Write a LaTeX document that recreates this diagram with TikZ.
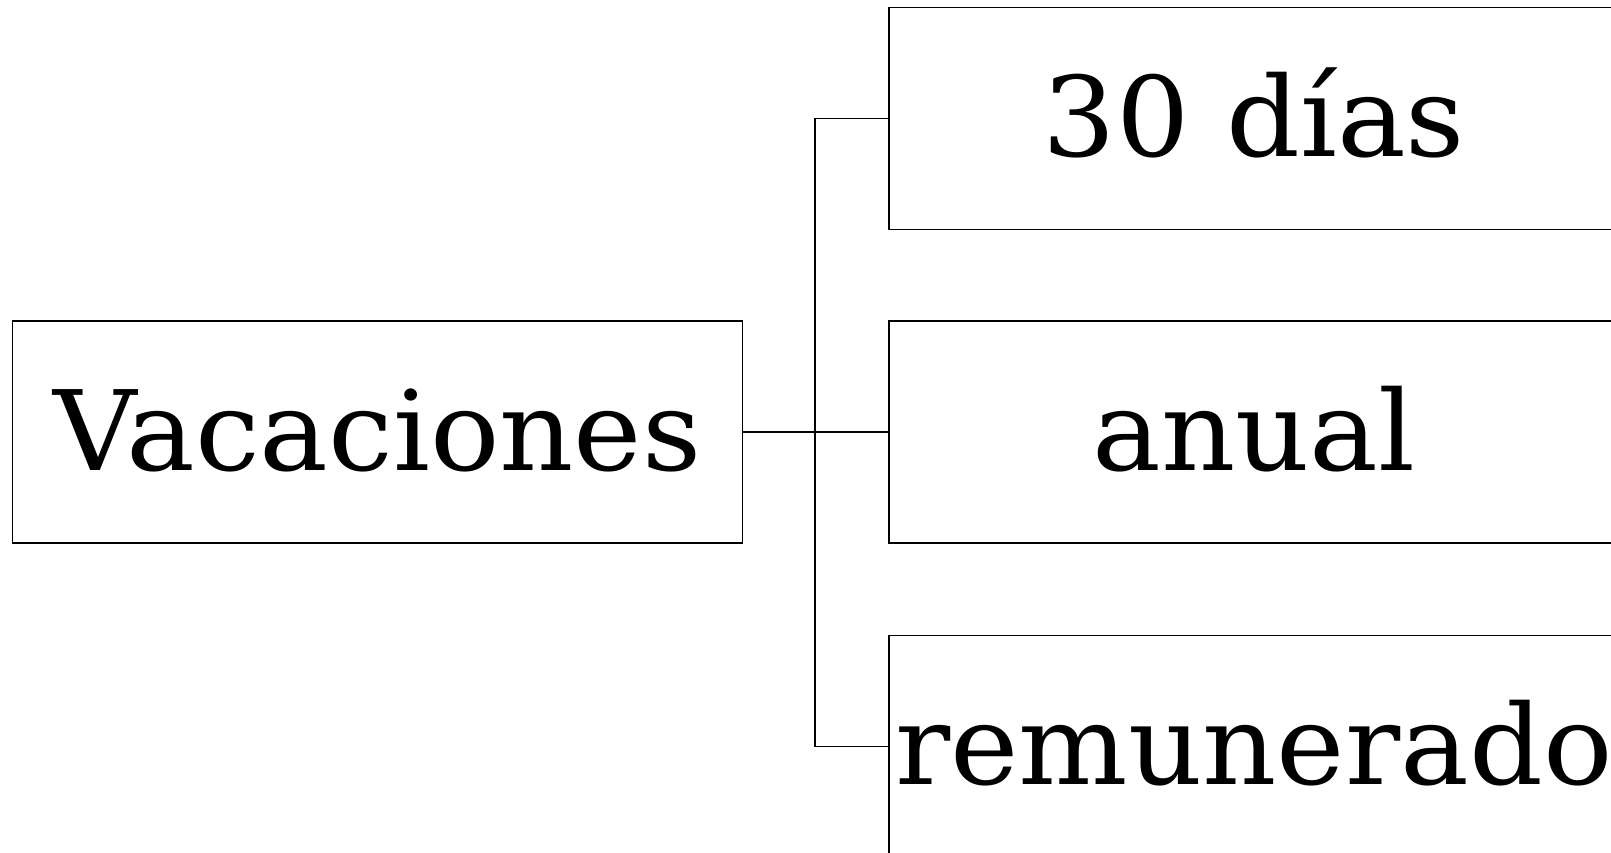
\documentclass[tikz,border=0pt]{standalone}
\usepackage{fontspec}
\setmainfont[FakeStretch=1.04]{DejaVu Serif}
\begin{document}
\begin{tikzpicture}[x=1pt,y=-1pt,
  box/.style={draw=black, line width=1.7pt, minimum width=730pt, minimum height=222pt,
    inner sep=0pt, text height=100pt, text depth=24pt,
    font=\fontsize{111}{130}\selectfont},
  conn/.style={draw=black, line width=1.7pt}]
\useasboundingbox (0,0) rectangle (1611,853);
\fill[white] (0,0) rectangle (1611,853);
\clip (0,0) rectangle (1611,853);
\node[box] (vac) at (377.5,432) {Vacaciones};
\node[box] (dias) at (1254,118.5) {30 días};
\node[box] (anual) at (1254,432) {anual};
\node[box] (rem) at (1254,746.5) {remunerado};
\coordinate (j) at (815,432);
\draw[conn] (vac.east) -- (anual.west);
\draw[conn] (j |- dias.west) -- (j |- rem.west);
\draw[conn] (j |- dias.west) -- (dias.west);
\draw[conn] (j |- rem.west) -- (rem.west);
\end{tikzpicture}
\end{document}
